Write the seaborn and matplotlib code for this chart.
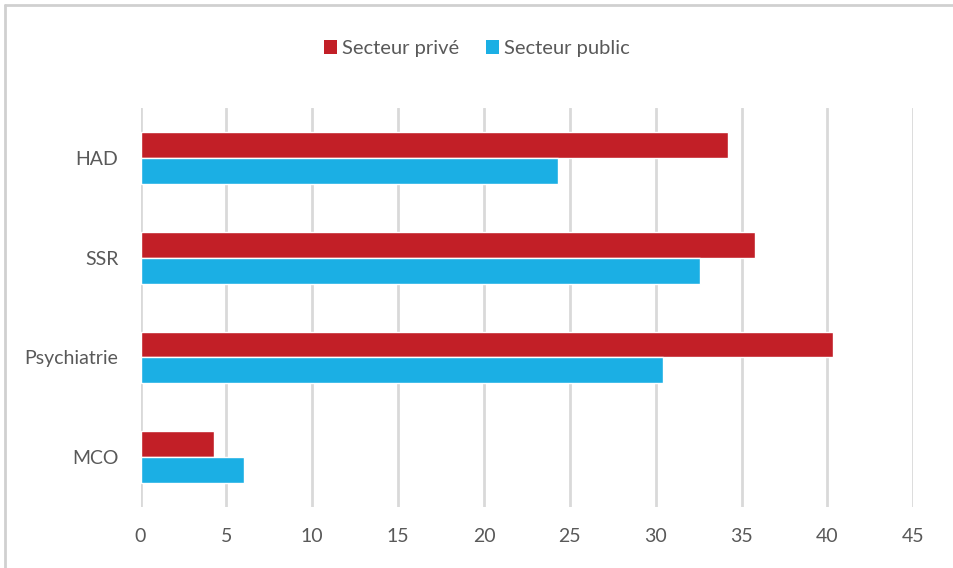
import pandas as pd
import matplotlib.pyplot as plt
import seaborn as sns
from matplotlib.lines import Line2D
from matplotlib.patches import Patch

# data
categories = ['HAD', 'SSR', 'Psychiatrie', 'MCO']
prive = [34.2, 35.8, 40.3, 4.25]
public = [24.3, 32.6, 30.4, 6.05]
series = ['Secteur privé', 'Secteur public']
ticks = [0, 5, 10, 15, 20, 25, 30, 35, 40, 45]

colors = {'Secteur privé': '#C21F27', 'Secteur public': '#1BAFE4'}
text_grey = '#595959'

df = pd.DataFrame({
    'Catégorie': categories * 2,
    'Valeur': prive + public,
    'Secteur': [series[0]] * len(categories) + [series[1]] * len(categories),
})

sns.set_style('white')
plt.rcParams['font.family'] = ['Lato', 'DejaVu Sans']

fig = plt.figure(figsize=(9.54, 5.68), dpi=100)
ax = fig.add_axes([0.1473, 0.107, 0.81, 0.703])

sns.barplot(data=df, x='Valeur', y='Catégorie', hue='Secteur', order=categories,
            hue_order=series, palette=colors, orient='h', width=0.52,
            saturation=1, ax=ax, legend=False)

ax.set_xlim(0, 45)
ax.set_ylim(3.5, -0.5)
ax.set_xticks(ticks)
ax.xaxis.grid(True, color='#d9d9d9', linewidth=2)
ax.set_axisbelow(True)
for s in ax.spines.values():
    s.set_visible(False)
ax.tick_params(axis='both', length=0, labelsize=14, labelcolor=text_grey)
ax.tick_params(axis='x', pad=15)
ax.tick_params(axis='y', pad=16)
ax.set_xlabel('')
ax.set_ylabel('')

handles = [Patch(facecolor=colors[s], edgecolor='none') for s in series]
fig.legend(handles, series, loc='center', bbox_to_anchor=(0.5, 0.914), ncol=2,
           frameon=False, fontsize=14.5, labelcolor=text_grey, handlelength=0.65,
           handleheight=0.7, handletextpad=0.25, columnspacing=1.3)

# light frame around the chart
fig.add_artist(Line2D([0.005, 1.0], [0.991, 0.991], color='#d0d0d0', linewidth=2,
                      transform=fig.transFigure))
fig.add_artist(Line2D([0.005, 0.005], [0.0, 0.991], color='#d0d0d0', linewidth=2,
                      transform=fig.transFigure))

fig.savefig('out.png', dpi=100)
